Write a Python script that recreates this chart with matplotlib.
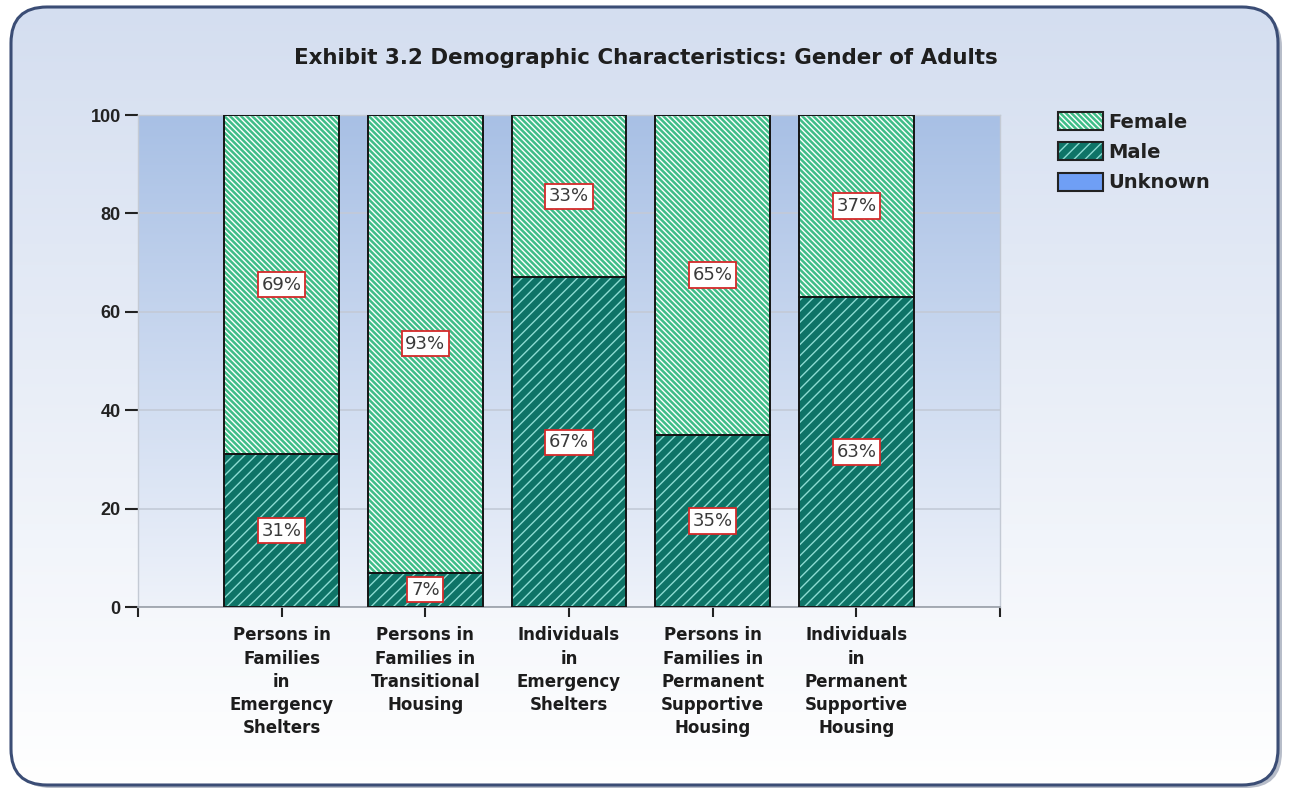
import numpy as np
import matplotlib
matplotlib.use("Agg")
import matplotlib.pyplot as plt
from matplotlib.patches import FancyBboxPatch, Patch
from matplotlib.colors import LinearSegmentedColormap
from matplotlib.legend_handler import HandlerTuple

# data
categories = [
    "Persons in\nFamilies\nin\nEmergency\nShelters",
    "Persons in\nFamilies in\nTransitional\nHousing",
    "Individuals\nin\nEmergency\nShelters",
    "Persons in\nFamilies in\nPermanent\nSupportive\nHousing",
    "Individuals\nin\nPermanent\nSupportive\nHousing",
]
male = [31, 7, 67, 35, 63]
female = [69, 93, 33, 65, 37]
unknown = [0, 0, 0, 0, 0]
yticks = [0, 20, 40, 60, 80, 100]
title = "Exhibit 3.2 Demographic Characteristics: Gender of Adults"

female_col = "#3fbd88"
male_col = "#0e7467"
unknown_col = "#6f9ff5"
female_hatch = "\\" * 6
male_hatch = "///"

plt.rcParams["hatch.linewidth"] = 1.0
plt.rcParams["font.family"] = "DejaVu Sans"

fig = plt.figure(figsize=(12.91, 7.93), dpi=100)

# rounded panel in pixel coordinates
bg = fig.add_axes([0, 0, 1, 1])
bg.axis("off")
grad = np.linspace(0, 1, 256)[:, None]
panel_cmap = LinearSegmentedColormap.from_list("panel", ["#d4def0", "#ffffff"])
shadow = FancyBboxPatch((15, 11), 1267, 777, boxstyle="round,pad=0,rounding_size=36",
                        fc="#7d879e", ec="none", alpha=0.55, zorder=0)
bg.add_patch(shadow)
im = bg.imshow(grad, cmap=panel_cmap, extent=[11, 1278, 785, 7], aspect="auto", zorder=1)
box = FancyBboxPatch((11, 7), 1267, 778, boxstyle="round,pad=0,rounding_size=36",
                     fc="none", ec="#3b4d75", lw=2.2, zorder=2)
bg.add_patch(box)
im.set_clip_path(box)
bg.set_xlim(0, 1291)
bg.set_ylim(793, 0)

fig.text(0.5, 1 - 58 / 793, title, ha="center", va="center",
         fontsize=15.4, fontweight="bold", color="#1e1e1e")

ax = fig.add_axes([138 / 1291, 186 / 793, 862 / 1291, 492 / 793])
ax.set_facecolor("none")
plot_cmap = LinearSegmentedColormap.from_list("plot", ["#a8c0e5", "#eef2fa"])
ax.imshow(grad, cmap=plot_cmap, extent=[-1, 5, 0, 100], aspect="auto", zorder=0)

x = np.arange(len(categories))
male = np.array(male)
female = np.array(female)
w = 0.8

ax.bar(x, male, w, color=male_col, hatch=male_hatch, edgecolor="#8cdcd2", linewidth=0, zorder=2)
ax.bar(x, female, w, bottom=male, color=female_col, hatch=female_hatch, edgecolor="white",
       linewidth=0, zorder=2)
ax.bar(x, unknown, w, bottom=male + female, color=unknown_col, linewidth=0, zorder=2)
ax.bar(x, male, w, fill=False, edgecolor="#141414", linewidth=1.4, zorder=3)
ax.bar(x, female, w, bottom=male, fill=False, edgecolor="#141414", linewidth=1.4, zorder=3)

for i in range(len(x)):
    for val, base in ((male[i], 0), (female[i], male[i])):
        ax.text(x[i], base + val / 2, f"{val}%", ha="center", va="center", fontsize=13,
                color="#3a3a3a", zorder=5,
                bbox=dict(boxstyle="square,pad=0.2", fc="white", ec="#d42a2a", lw=1.3))

ax.set_xlim(-1, 5)
ax.set_ylim(0, 100)
ax.set_yticks(yticks)
ax.set_yticklabels([str(v) for v in yticks], fontsize=13, fontweight="bold",
                   family="Liberation Sans", color="#222222")
ax.set_xticks(x)
ax.set_xticklabels(categories, fontsize=12, fontweight="bold", color="#1c1c1c", linespacing=1.37)
ax.set_xticks([-1, 5], minor=True)
ax.tick_params(axis="y", length=9.5, width=1.5, color="#222222", pad=3)
ax.tick_params(axis="x", which="both", length=7, width=1.5, color="#222222", pad=7)
ax.grid(axis="y", color="#c3cad7", linewidth=1.2, zorder=1)
ax.set_axisbelow(True)
for side in ("left", "right", "top"):
    ax.spines[side].set_color("#c4cad4")
    ax.spines[side].set_linewidth(1.0)
ax.spines["bottom"].set_color("#9fa5ae")
ax.spines["bottom"].set_linewidth(1.3)

handles = [
    (Patch(fc=female_col, hatch=female_hatch, ec="white", lw=0), Patch(fill=False, ec="#222222", lw=1.5)),
    (Patch(fc=male_col, hatch=male_hatch, ec="#8cdcd2", lw=0), Patch(fill=False, ec="#222222", lw=1.5)),
    Patch(fc=unknown_col, ec="#222222", lw=1.5),
]
fig.legend(handles, ["Female", "Male", "Unknown"], loc="upper left",
           bbox_to_anchor=(1058 / 1291, 1 - 112 / 793), frameon=False,
           prop={"size": 14, "weight": "bold"},
           handlelength=2.3, handleheight=1.05, handletextpad=0.3, labelspacing=0.55,
           borderpad=0, borderaxespad=0, labelcolor="#222222",
           handler_map={tuple: HandlerTuple(ndivide=1, pad=0)})

fig.savefig("out.png", dpi=100)
